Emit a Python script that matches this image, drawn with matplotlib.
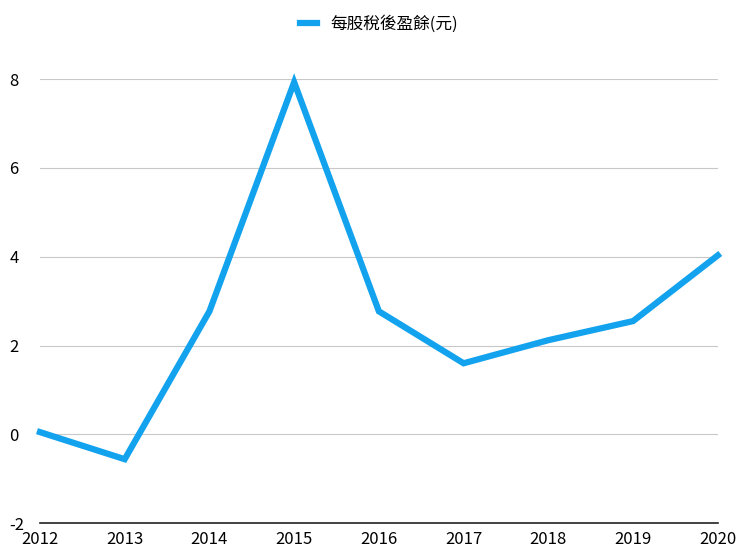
import matplotlib
matplotlib.use("Agg")
import matplotlib.pyplot as plt

plt.rcParams['font.family'] = ['Noto Sans CJK TC', 'DejaVu Sans']

years = ["2012", "2013", "2014", "2015", "2016", "2017", "2018", "2019", "2020"]
eps = [0.05, -0.56, 2.77, 7.93, 2.77, 1.60, 2.12, 2.55, 4.03]
series_name = "每股稅後盈餘(元)"

fig = plt.figure(figsize=(7.4, 5.53), dpi=100)
ax = fig.add_axes([0.054, 0.054, 0.916, 0.803])
x = list(range(len(years)))
ax.plot(x, eps, color="#12a2ee", lw=4.5, solid_joinstyle="miter", label=series_name, clip_on=False)
ax.set_xlim(0, len(years) - 1)
ax.set_ylim(-2, 8)
ax.set_yticks([-2, 0, 2, 4, 6, 8])
ax.set_yticklabels(["-2", "0", "2", "4", "6", "8"])
ax.set_xticks(x)
ax.set_xticklabels(years)
ax.grid(axis="y", color="#c8c8c8", lw=0.8)
ax.set_axisbelow(True)
for s in ["top", "right", "left"]:
    ax.spines[s].set_visible(False)
ax.spines["bottom"].set_color("#222222")
ax.spines["bottom"].set_linewidth(1.2)
ax.tick_params(length=0, labelsize=12)
ax.tick_params(axis="y", pad=22)
ax.tick_params(axis="x", pad=6)
for lbl in ax.get_yticklabels():
    lbl.set_horizontalalignment("left")
ax.legend(loc="lower center", bbox_to_anchor=(0.5, 1.07), frameon=False,
          fontsize=12, handlelength=1.0)
fig.savefig("out.png", dpi=100)
